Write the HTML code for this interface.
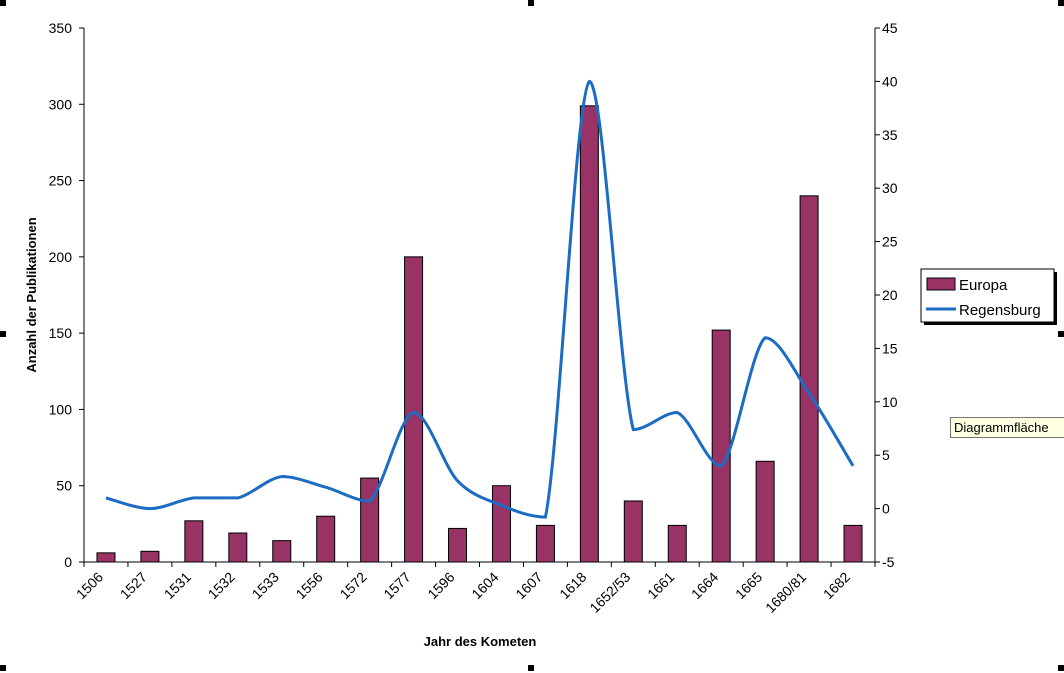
<!DOCTYPE html>
<html><head><meta charset="utf-8"><style>
body{margin:0;background:#fff;}
svg{display:block;font-family:"Liberation Sans",Arial,sans-serif;}
</style></head><body>
<svg id="c" width="1064" height="673" viewBox="0 0 1064 673">
<g id="handles"></g>
<g id="bars"></g>
<path id="line" fill="none" stroke="#1c6cc4" stroke-width="3"/>
<g id="axes"></g>
<text x="36" y="295" transform="rotate(-90 36 295)" text-anchor="middle" font-size="13" font-weight="bold">Anzahl der Publikationen</text>
<text x="480" y="646" text-anchor="middle" font-size="13" font-weight="bold">Jahr des Kometen</text>
<g>
<rect x="924" y="272" width="133" height="53" fill="#000"/>
<rect x="921" y="269" width="133" height="53" fill="#fff" stroke="#000"/>
<g><rect x="927" y="278" width="28" height="12" fill="#993366" stroke="#000"/><text x="959" y="290" font-size="15">Europa</text></g>
<g><line x1="926" y1="309" x2="956" y2="309" stroke="#1c6cc4" stroke-width="3"/><text x="959" y="315" font-size="15">Regensburg</text></g>
</g>
<g>
<rect x="950.5" y="417.5" width="120" height="20" fill="#ffffe1" stroke="#777"/>
<text x="954" y="432" font-size="13">Diagrammfläche</text>
</g>
</svg>
<script>
const categories=["1506","1527","1531","1532","1533","1556","1572","1577","1596","1604","1607","1618","1652/53","1661","1664","1665","1680/81","1682"];
const europa=[6,7,27,19,14,30,55,200,22,50,24,299,40,24,152,66,240,24];
const regensburg=[1,0,1,1,3,2,0.7,9,2.6,0.3,-0.8,40,7.4,9,4,16,10.8,4];
const leftTicks=[0,50,100,150,200,250,300,350];
const rightTicks=[-5,0,5,10,15,20,25,30,35,40,45];
const X0=84,X1=875,Y0=562,Y1=28;
const NS="http://www.w3.org/2000/svg";
const bw=(X1-X0)/categories.length;
const xc=i=>X0+bw*(i+0.5);
const yL=v=>Y0-(v/350)*(Y0-Y1);
const yR=v=>Y0-((v+5)/50)*(Y0-Y1);
function mk(t,a,p){const e=document.createElementNS(NS,t);for(const k in a)e.setAttribute(k,a[k]);p.appendChild(e);return e;}
const bars=document.getElementById('bars'),axes=document.getElementById('axes');
europa.forEach((v,i)=>{
 const r=mk('rect',{x:xc(i)-9,y:yL(v),width:18,height:Y0-yL(v),fill:'#993366',stroke:'#000','stroke-width':1},bars);
 
 
});
const pts=regensburg.map((v,i)=>[xc(i),yR(v)]);
const T=0.16;
const clamp=(v,a,b)=>Math.max(Math.min(a,b),Math.min(Math.max(a,b),v));
let d='M'+pts[0][0]+','+pts[0][1];
for(let i=0;i<pts.length-1;i++){
 const p0=pts[i-1]||pts[i],p1=pts[i],p2=pts[i+1],p3=pts[i+2]||p2;
 const c1=[p1[0]+(p2[0]-p0[0])*T,clamp(p1[1]+(p2[1]-p0[1])*T,p1[1],p2[1]+(p1[1]-p2[1])*0)];
 const c2=[p2[0]-(p3[0]-p1[0])*T,clamp(p2[1]-(p3[1]-p1[1])*T,p1[1],p2[1])];
 // allow small overshoot at extremes: keep c1 within segment range too
 c1[1]=clamp(c1[1],p1[1],p2[1]);
 d+=` C${c1[0]},${c1[1]} ${c2[0]},${c2[1]} ${p2[0]},${p2[1]}`;
}
document.getElementById('line').setAttribute('d',d);
mk('line',{x1:X0,y1:Y1,x2:X0,y2:Y0,stroke:'#000'},axes);
mk('line',{x1:X1,y1:Y1,x2:X1,y2:Y0,stroke:'#000'},axes);
mk('line',{x1:X0,y1:Y0,x2:X1,y2:Y0,stroke:'#000'},axes);
leftTicks.forEach(t=>{
 mk('line',{x1:X0-5,y1:yL(t),x2:X0,y2:yL(t),stroke:'#000'},axes);
 const e=mk('text',{x:X0-12,y:yL(t)+5,'text-anchor':'end','font-size':14},axes);e.textContent=t;
 
 
});
rightTicks.forEach(t=>{
 mk('line',{x1:X1,y1:yR(t),x2:X1+5,y2:yR(t),stroke:'#000'},axes);
 const e=mk('text',{x:X1+7,y:yR(t)+5,'font-size':14},axes);e.textContent=t;
 
 
});
categories.forEach((c,i)=>{
 const x=X0+bw*i;
 mk('line',{x1:x,y1:Y0,x2:x,y2:Y0+5,stroke:'#000'},axes);
 const tx=xc(i)-2,ty=Y0+16;
 const e=mk('text',{x:tx,y:ty,'text-anchor':'end','font-size':14,transform:`rotate(-45 ${tx} ${ty})`},axes);e.textContent=c;
 
 
});
mk('line',{x1:X1,y1:Y0,x2:X1,y2:Y0+5,stroke:'#000'},axes);
const hg=document.getElementById('handles');
[[0,0],[528,0],[1058,0],[0,331],[1058,331],[0,665],[528,665],[1058,665]].forEach(p=>{
 const h=mk('rect',{x:p[0],y:p[1],width:6,height:6,fill:'#000'},hg);
 
 
});
</script>
</body></html>
